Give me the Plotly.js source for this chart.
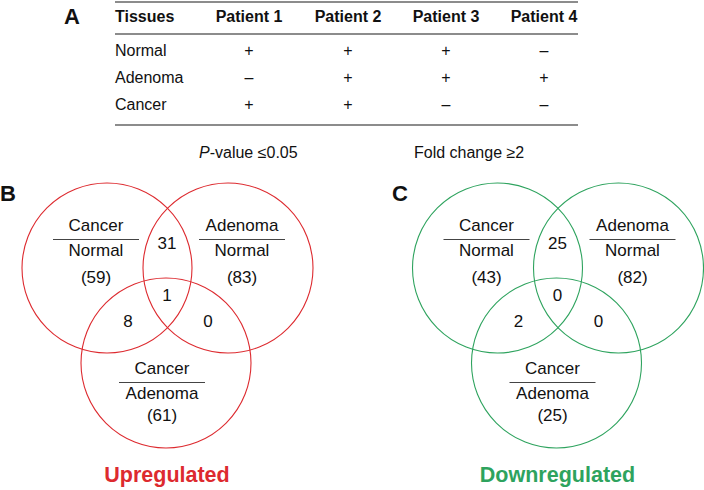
<!DOCTYPE html>
<html>
<head>
<meta charset="utf-8">
<script src="https://cdn.plot.ly/plotly-3.0.1.min.js"></script>
<style>html,body{margin:0;padding:0;background:#fff;}#chart{width:704px;height:490px;}</style>
</head>
<body>
<div id="chart"></div>
<script>
// ---- Data ----
const tableHeader = ["Tissues", "Patient 1", "Patient 2", "Patient 3", "Patient 4"];
const tissues = ["Normal", "Adenoma", "Cancer"];
const patient1 = ["+", "–", "+"];
const patient2 = ["+", "+", "+"];
const patient3 = ["+", "+", "–"];
const patient4 = ["–", "+", "–"];

const vennSetNumer = ["Cancer", "Adenoma", "Cancer"];
const vennSetDenom = ["Normal", "Normal", "Adenoma"];
const upTotals = [59, 83, 61];
const upPairs = [31, 8, 0];      // (CN∩AN), (CN∩CA), (AN∩CA)
const upTriple = 1;
const downTotals = [43, 82, 25];
const downPairs = [25, 2, 0];
const downTriple = 0;
const criteria = ["<i>P</i>-value ≤0.05", "Fold change ≥2"];
const panelTitles = ["Upregulated", "Downregulated"];
const panelLetters = ["A", "B", "C"];

// ---- Layout constants ----
const FONT = "Liberation Sans, Arial, Helvetica, sans-serif";
const RED = "#dd2a2f", GREEN = "#2ea35e";
const shapes = [], annotations = [], traces = [];

function textTrace(xs, ys, texts, size, color, pos, bold) {
  traces.push({
    type: "scatter", mode: "text", x: xs, y: ys,
    text: texts.map(t => bold ? "<b>" + t + "</b>" : t),
    textposition: pos || "middle center",
    textfont: {family: FONT, size: size, color: color || "#111"},
    hoverinfo: "skip", showlegend: false, cliponaxis: false
  });
}

// ---- Table (panel A) ----
const colX = [115, 249, 348, 446, 544];
const headerY = 18, rowY = [52, 79, 106];
const tblL = 115, tblR = 578;
[2, 34, 125].forEach(y => shapes.push({type: "line", xref: "x", yref: "y", x0: tblL, x1: tblR, y0: y, y1: y, line: {color: "#666", width: 1.4}}));
textTrace([colX[0]], [headerY], [tableHeader[0]], 16, "#111", "middle right", true);
textTrace(colX.slice(1), colX.slice(1).map(() => headerY), tableHeader.slice(1), 16, "#111", "middle center", true);
textTrace(tissues.map(() => colX[0]), rowY, tissues, 16, "#111", "middle right");
[patient1, patient2, patient3, patient4].forEach((col, i) => {
  textTrace(col.map(() => colX[i + 1]), rowY, col, 16, "#111");
});
annotations.push({x: 72, y: 16, xref: "x", yref: "y", text: "<b>" + panelLetters[0] + "</b>", showarrow: false, font: {family: FONT, size: 22, color: "#111"}});

// criteria
annotations.push({x: 248, y: 152, xref: "x", yref: "y", text: criteria[0], showarrow: false, font: {family: FONT, size: 16, color: "#111"}});
annotations.push({x: 469, y: 152, xref: "x", yref: "y", text: criteria[1], showarrow: false, font: {family: FONT, size: 16, color: "#111"}});

// ---- Venn panels ----
function venn(ox, color, totals, pairs, triple, title, letter, letterX) {
  const R = 85;
  const centers = [[107 + ox, 268], [228 + ox, 268], [166 + ox, 363]];
  centers.forEach(c => shapes.push({type: "circle", xref: "x", yref: "y", x0: c[0] - R, x1: c[0] + R, y0: c[1] - R, y1: c[1] + R, line: {color: color, width: 1.1}}));
  // set labels
  const lab = [[96 + ox, 227], [242 + ox, 227], [162 + ox, 370]];
  const xs = [], yn = [], yd = [], yt = [];
  lab.forEach((p, i) => {
    shapes.push({type: "line", xref: "x", yref: "y", x0: p[0] - 43, x1: p[0] + 43, y0: p[1] + 12.5, y1: p[1] + 12.5, line: {color: "#444", width: 1.1}});
    xs.push(p[0]); yn.push(p[1]); yd.push(p[1] + 25); yt.push(p[1] + 52 - (i === 2 ? 5 : 0));
  });
  textTrace(xs, yn, vennSetNumer, 17);
  textTrace(xs, yd, vennSetDenom, 17);
  textTrace(xs, yt, totals.map(v => "(" + v + ")"), 17);
  // overlaps
  textTrace([167 + ox, 128 + ox, 208 + ox, 167 + ox], [245, 323, 323, 297], pairs.concat([triple]).map(String), 17);
  textTrace([167 + ox], [477], [title], 21.5, color, "middle center", true);
  annotations.push({x: letterX, y: 193, xref: "x", yref: "y", text: "<b>" + letter + "</b>", showarrow: false, font: {family: FONT, size: 22, color: "#111"}});
}
venn(0, RED, upTotals, upPairs, upTriple, panelTitles[0], panelLetters[1], 8);
venn(390.5, GREEN, downTotals, downPairs, downTriple, panelTitles[1], panelLetters[2], 400);

const layout = {
  width: 704, height: 490,
  margin: {l: 0, r: 0, t: 0, b: 0},
  paper_bgcolor: "#fff", plot_bgcolor: "#fff",
  xaxis: {range: [0, 704], visible: false, fixedrange: true},
  yaxis: {range: [490, 0], visible: false, fixedrange: true},
  shapes: shapes, annotations: annotations, showlegend: false
};
Plotly.newPlot("chart", traces, layout, {staticPlot: true, displayModeBar: false});
</script>
</body>
</html>
